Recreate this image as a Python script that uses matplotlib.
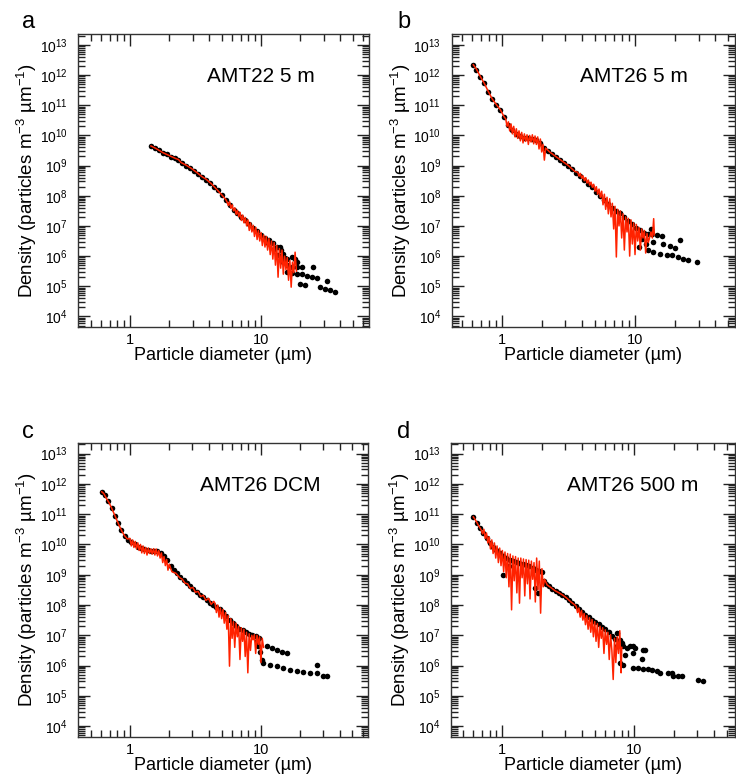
import numpy as np
import matplotlib.pyplot as plt
from matplotlib.ticker import LogLocator, NullFormatter, FuncFormatter

plt.rcParams['font.family'] = ['Liberation Sans', 'DejaVu Sans']
plt.rcParams['mathtext.default'] = 'regular'

# values: log10(diameter in um), log10(density)
# panel a: AMT22 5 m
a_dot_logd = [0.16, 0.19, 0.22, 0.25, 0.28, 0.31, 0.34, 0.37, 0.40, 0.43, 0.46, 0.49,
              0.52, 0.55, 0.58, 0.61, 0.64, 0.67, 0.70, 0.73, 0.76, 0.79, 0.82, 0.85,
              0.88, 0.91, 0.94, 0.97, 1.00, 1.03, 1.06, 1.09, 1.12, 1.145, 1.17, 1.196,
              1.234, 1.26, 1.272, 1.17, 1.196, 1.234, 1.272, 1.31, 1.399, 1.196, 1.234,
              1.272, 1.311, 1.349, 1.387, 1.425, 1.501, 1.298, 1.336, 1.45, 1.489, 1.527,
              1.565, 1.05, 1.10, 1.13, 1.15, 1.18]
a_dot_logn = [9.65, 9.58, 9.50, 9.43, 9.37, 9.30, 9.24, 9.19, 9.08, 9.00, 8.92, 8.82,
              8.72, 8.62, 8.53, 8.43, 8.30, 8.18, 8.02, 7.86, 7.68, 7.54, 7.42, 7.30,
              7.18, 7.06, 6.94, 6.82, 6.70, 6.60, 6.52, 6.42, 6.30, 6.30, 6.08, 5.91,
              5.97, 5.91, 5.80, 5.80, 5.69, 5.63, 5.63, 5.63, 5.63, 5.47, 5.44,
              5.42, 5.39, 5.35, 5.32, 5.28, 5.19, 5.08, 5.05, 4.97, 4.92, 4.86,
              4.81, 6.45, 6.25, 6.05, 6.20, 5.95]
a_red_logd = [0.16, 0.20, 0.25, 0.30, 0.35, 0.37, 0.39, 0.43, 0.47, 0.51, 0.55, 0.58,
              0.62, 0.66, 0.70, 0.73, 0.74, 0.75, 0.76, 0.77, 0.78, 0.79, 0.80, 0.81,
              0.82, 0.83, 0.84, 0.85, 0.86, 0.87, 0.88, 0.89, 0.90, 0.91, 0.92, 0.93,
              0.94, 0.95, 0.96, 0.97, 0.98, 0.99, 1.00, 1.01, 1.02, 1.03, 1.04, 1.05,
              1.06, 1.07, 1.08, 1.09, 1.10, 1.11, 1.12, 1.13, 1.14, 1.15, 1.16, 1.17,
              1.18, 1.19, 1.20, 1.21, 1.22, 1.23, 1.24, 1.25, 1.26, 1.27]
a_red_logn = [9.65, 9.56, 9.43, 9.33, 9.23, 9.20, 9.10, 9.01, 8.90, 8.77, 8.63, 8.55,
              8.40, 8.22, 8.03, 7.88, 7.80, 7.68, 7.80, 7.58, 7.70, 7.50, 7.60, 7.38,
              7.52, 7.30, 7.45, 7.18, 7.36, 7.10, 7.28, 7.00, 7.20, 6.85, 7.10, 6.80,
              7.02, 6.65, 6.95, 6.55, 6.85, 6.50, 6.78, 6.35, 6.70, 6.30, 6.65, 6.20,
              6.58, 6.05, 6.50, 5.90, 6.45, 5.70, 6.35, 5.30, 6.25, 5.60, 6.20, 5.40,
              6.00, 5.55, 5.95, 5.20, 5.85, 4.97, 5.80, 5.45, 6.13, 5.50]

# panel b: AMT26 5 m
b_dot_logd = [-0.213, -0.19, -0.16, -0.13, -0.10, -0.07, -0.04, -0.01, 0.02, 0.05, 0.08,
              0.11, 0.14, 0.17, 0.20, 0.23, 0.26, 0.29, 0.32, 0.35, 0.38, 0.41, 0.44,
              0.47, 0.50, 0.53, 0.56, 0.59, 0.62, 0.65, 0.68, 0.71, 0.74, 0.77, 0.80,
              0.83, 0.86, 0.89, 0.92, 0.95, 0.98, 1.01, 1.04, 1.07, 1.10, 1.125, 1.162,
              1.20, 1.337, 1.137, 1.212, 1.262, 1.30, 1.10, 1.137, 1.188, 1.238, 1.275,
              1.325, 1.362, 1.40, 1.463, 1.05, 1.08, 1.03, 1.12]
b_dot_logn = [12.34, 12.18, 11.95, 11.72, 11.45, 11.22, 11.02, 10.84, 10.62, 10.36, 10.18,
              10.06, 9.99, 9.93, 9.90, 9.88, 9.84, 9.74, 9.58, 9.48, 9.38, 9.29, 9.19,
              9.09, 8.98, 8.88, 8.77, 8.66, 8.52, 8.40, 8.28, 8.14, 8.00, 7.86, 7.72,
              7.60, 7.50, 7.42, 7.30, 7.16, 7.05, 6.94, 6.85, 6.78, 6.74, 6.74, 6.69,
              6.66, 6.54, 6.47, 6.41, 6.32, 6.28, 6.19, 6.13, 6.08, 6.02, 6.02,
              5.97, 5.91, 5.88, 5.80, 6.55, 6.40, 6.30, 6.90]
b_red_logd = [-0.213, -0.19, -0.16, -0.13, -0.10, -0.07, -0.04, -0.01, 0.02, 0.03, 0.04,
              0.05, 0.06, 0.07, 0.08, 0.09, 0.10, 0.11, 0.12, 0.13, 0.14, 0.15, 0.16,
              0.17, 0.18, 0.19, 0.20, 0.21, 0.22, 0.23, 0.24, 0.25, 0.26, 0.27, 0.28,
              0.29, 0.30, 0.31, 0.32, 0.33, 0.36, 0.40, 0.45, 0.50, 0.55, 0.57, 0.58,
              0.59, 0.60, 0.61, 0.62, 0.63, 0.64, 0.65, 0.66, 0.67, 0.68, 0.69, 0.70,
              0.71, 0.72, 0.73, 0.74, 0.75, 0.76, 0.77, 0.78, 0.79, 0.80, 0.81, 0.82,
              0.83, 0.84, 0.85, 0.86, 0.87, 0.88, 0.89, 0.90, 0.91, 0.92, 0.93, 0.94,
              0.95, 0.96, 0.97, 0.98, 0.99, 1.00, 1.01, 1.02, 1.03, 1.04, 1.05, 1.06,
              1.07, 1.08, 1.09, 1.10, 1.12, 1.13, 1.14, 1.145]
b_red_logn = [12.34, 12.20, 11.95, 11.72, 11.45, 11.20, 11.02, 10.85, 10.60, 10.55, 10.30,
              10.45, 10.15, 10.38, 10.05, 10.30, 9.95, 10.22, 9.90, 10.15, 9.82, 10.10, 9.75,
              10.05, 9.80, 10.02, 9.70, 10.00, 9.78, 10.02, 9.72, 9.98, 9.70, 9.95, 9.55,
              9.88, 9.45, 9.70, 9.18, 9.58, 9.45, 9.32, 9.16, 9.00, 8.80, 8.78, 8.65,
              8.74, 8.58, 8.66, 8.50, 8.60, 8.42, 8.52, 8.35, 8.45, 8.28, 8.38, 8.15,
              8.30, 8.05, 8.22, 7.95, 8.15, 7.70, 8.05, 7.55, 7.95, 7.40, 7.90, 7.30,
              7.75, 6.90, 7.65, 5.97, 7.55, 7.00, 7.50, 6.60, 7.40, 6.20, 7.30, 6.80,
              7.25, 6.00, 7.20, 6.40, 7.10, 6.05, 7.05, 6.50, 6.95, 6.20, 6.90, 6.60,
              6.85, 6.10, 6.75, 6.45, 6.80, 6.60, 7.24, 6.70]

# panel c: AMT26 DCM
c_dot_logd = [-0.216, -0.19, -0.165, -0.14, -0.115, -0.09, -0.065, -0.04, -0.015, 0.01,
              0.035, 0.06, 0.085, 0.11, 0.135, 0.16, 0.185, 0.21, 0.235, 0.26, 0.285,
              0.31, 0.335, 0.36, 0.385, 0.41, 0.435, 0.46, 0.485, 0.51, 0.535, 0.56,
              0.585, 0.61, 0.635, 0.66, 0.685, 0.71, 0.735, 0.76, 0.785, 0.81, 0.835,
              0.86, 0.885, 0.91, 0.935, 0.96, 0.985, 1.043, 1.081, 1.120, 1.158, 1.196,
              1.069, 1.120, 1.170, 1.221, 1.272, 1.323, 1.374, 1.425, 1.476, 1.501,
              1.425, 0.941, 0.967, 0.98, 0.992, 1.005, 1.018]
c_dot_logn = [11.74, 11.62, 11.42, 11.20, 10.95, 10.70, 10.48, 10.28, 10.15, 10.08,
              10.00, 9.93, 9.87, 9.84, 9.80, 9.78, 9.78, 9.77, 9.72, 9.62, 9.48,
              9.30, 9.15, 9.05, 8.94, 8.84, 8.72, 8.62, 8.52, 8.43, 8.34, 8.26,
              8.17, 8.08, 8.00, 7.94, 7.86, 7.78, 7.65, 7.52, 7.40, 7.30, 7.22,
              7.16, 7.10, 7.05, 7.00, 6.96, 6.92, 6.63, 6.57, 6.52, 6.46, 6.41,
              6.03, 5.97, 5.92, 5.86, 5.83, 5.80, 5.76, 5.74, 5.67, 5.65,
              6.03, 6.96, 6.80, 6.63, 6.46, 6.19, 6.10]
c_red_logd = [-0.216, -0.20, -0.18, -0.16, -0.14, -0.12, -0.10, -0.08, -0.06, -0.04, -0.02,
              0.00, 0.01, 0.02, 0.03, 0.04, 0.05, 0.06, 0.07, 0.08, 0.09, 0.10, 0.11,
              0.12, 0.13, 0.14, 0.15, 0.16, 0.17, 0.18, 0.19, 0.20, 0.21, 0.22, 0.23,
              0.24, 0.25, 0.26, 0.27, 0.28, 0.29, 0.30, 0.32, 0.35, 0.38, 0.40, 0.42,
              0.44, 0.46, 0.48, 0.50, 0.52, 0.54, 0.56, 0.58, 0.60, 0.62, 0.64, 0.65,
              0.66, 0.67, 0.68, 0.69, 0.70, 0.71, 0.72, 0.73, 0.74, 0.75, 0.76, 0.77,
              0.78, 0.79, 0.80, 0.81, 0.82, 0.83, 0.84, 0.85, 0.86, 0.87, 0.88, 0.89,
              0.90, 0.91, 0.92, 0.93, 0.94, 0.95, 0.96, 0.97, 0.98, 0.99, 1.00, 1.01,
              1.02]
c_red_logn = [11.74, 11.68, 11.52, 11.38, 11.20, 11.00, 10.80, 10.60, 10.42, 10.28, 10.18,
              10.20, 9.95, 10.15, 9.90, 10.10, 9.85, 10.05, 9.80, 10.00, 9.72, 9.95, 9.70,
              9.90, 9.65, 9.88, 9.70, 9.85, 9.68, 9.86, 9.65, 9.85, 9.62, 9.80, 9.55,
              9.72, 9.40, 9.60, 9.30, 9.50, 9.15, 9.35, 9.10, 9.05, 8.90, 8.85, 8.72,
              8.70, 8.55, 8.58, 8.42, 8.45, 8.28, 8.32, 8.15, 8.22, 8.02, 8.12, 8.05,
              7.75, 8.00, 7.60, 7.90, 7.55, 7.85, 7.40, 7.75, 7.20, 7.65, 5.98, 7.55,
              6.90, 7.45, 6.60, 7.40, 6.95, 7.30, 6.20, 7.25, 6.80, 7.20, 6.30, 7.10,
              5.76, 7.05, 6.50, 7.00, 6.85, 7.02, 6.40, 7.00, 6.70, 6.95, 6.10, 6.90,
              6.60]

# panel d: AMT26 500 m
d_dot_logd = [-0.22, -0.195, -0.17, -0.145, -0.12, -0.095, -0.07, -0.045, -0.02, 0.005,
              0.03, 0.055, 0.08, 0.105, 0.13, 0.155, 0.18, 0.205, 0.23, 0.255, 0.28,
              0.30, 0.315, 0.33, 0.355, 0.38, 0.405, 0.43, 0.455, 0.48, 0.505, 0.53,
              0.555, 0.58, 0.605, 0.63, 0.655, 0.68, 0.705, 0.73, 0.755, 0.78, 0.805,
              0.83, 0.855, 0.008, 0.27, 0.25, 0.05, 0.866, 0.892, 0.905, 0.866, 0.917,
              0.942, 0.967, 0.993, 1.005, 1.081, 0.93, 0.993, 0.892, 0.917, 0.993,
              1.031, 1.068, 1.106, 1.131, 1.169, 1.194, 1.257, 1.283, 1.295, 1.333,
              1.359, 1.485, 1.523, 1.056, 1.068]
d_dot_logn = [10.91, 10.72, 10.55, 10.37, 10.20, 10.05, 9.93, 9.82, 9.72, 9.62,
              9.55, 9.49, 9.45, 9.41, 9.38, 9.35, 9.32, 9.28, 9.22, 9.16, 9.12,
              9.08, 8.80, 8.70, 8.62, 8.53, 8.46, 8.40, 8.34, 8.27, 8.18, 8.08,
              7.98, 7.88, 7.78, 7.68, 7.60, 7.52, 7.44, 7.36, 7.28, 7.20, 7.10,
              6.98, 6.88, 8.99, 8.39, 8.55, 9.30, 7.07, 6.85, 6.74, 6.63, 6.63,
              6.58, 6.63, 6.63, 6.58, 6.50, 6.36, 6.41, 6.09, 6.03, 5.93,
              5.93, 5.89, 5.87, 5.85, 5.82, 5.76, 5.74, 5.77, 5.67, 5.65,
              5.67, 5.52, 5.48, 6.22, 6.52]
d_red_logd = [-0.22, -0.20, -0.18, -0.16, -0.15, -0.14, -0.13, -0.12, -0.11, -0.10, -0.09,
              -0.08, -0.07, -0.06, -0.05, -0.04, -0.03, -0.02, -0.01, 0.00, 0.01, 0.02,
              0.03, 0.04, 0.05, 0.06, 0.07, 0.08, 0.09, 0.10, 0.11, 0.12, 0.13, 0.14,
              0.15, 0.16, 0.17, 0.18, 0.19, 0.20, 0.21, 0.22, 0.23, 0.24, 0.25, 0.26,
              0.27, 0.28, 0.29, 0.30, 0.31, 0.32, 0.34, 0.37, 0.40, 0.43, 0.46, 0.49,
              0.52, 0.55, 0.56, 0.57, 0.58, 0.59, 0.60, 0.61, 0.62, 0.63, 0.64, 0.65,
              0.66, 0.67, 0.68, 0.69, 0.70, 0.71, 0.72, 0.73, 0.74, 0.75, 0.76, 0.77,
              0.78, 0.79, 0.80, 0.81, 0.82, 0.83, 0.84, 0.85, 0.86, 0.87, 0.88, 0.89,
              0.90, 0.905]
d_red_logn = [10.91, 10.78, 10.62, 10.48, 10.35, 10.50, 10.20, 10.38, 10.05, 10.25, 9.85,
              10.15, 9.70, 10.05, 9.55, 9.95, 9.40, 9.88, 9.30, 9.80, 9.10, 9.75,
              8.90, 9.70, 8.60, 9.68, 7.84, 9.62, 8.80, 9.60, 8.40, 9.55, 8.06, 9.55,
              8.90, 9.52, 8.30, 9.50, 8.70, 9.48, 8.20, 9.45, 8.85, 9.40, 8.10, 9.55,
              8.50, 9.45, 7.73, 9.20, 8.60, 8.85, 8.66, 8.57, 8.47, 8.40, 8.32, 8.22,
              8.10, 8.00, 7.95, 7.75, 7.90, 7.60, 7.82, 7.50, 7.72, 7.35, 7.65, 7.20,
              7.58, 7.10, 7.52, 6.95, 7.45, 6.80, 7.38, 6.60, 7.30, 6.90, 7.25, 6.40,
              7.18, 6.70, 7.10, 6.20, 7.02, 6.50, 5.54, 6.90, 6.10, 6.95, 6.40, 7.15,
              5.76, 6.60]

panel_letters = ['a', 'b', 'c', 'd']
panel_titles = ['AMT22 5 m', 'AMT26 5 m', 'AMT26 DCM', 'AMT26 500 m']
x_major = [1, 10]
y_major = [1e4, 1e5, 1e6, 1e7, 1e8, 1e9, 1e10, 1e11, 1e12, 1e13]

W, H = 736, 781
fig = plt.figure(figsize=(W / 100, H / 100), dpi=100)

# (left, top, right, bottom) in pixels, log10 x-limits, title x, letter position
panels = [
    ((78, 34, 369, 327), (-0.397, 1.824), 0.443, (22, 28),
     a_dot_logd, a_dot_logn, a_red_logd, a_red_logn),
    ((451.7, 34, 735, 327), (-0.375, 1.75), 0.452, (397, 28),
     b_dot_logd, b_dot_logn, b_red_logd, b_red_logn),
    ((78, 442.7, 368.3, 736.7), (-0.397, 1.82), 0.419, (22, 438),
     c_dot_logd, c_dot_logn, c_red_logd, c_red_logn),
    ((451, 442.7, 735, 736.7), (-0.389, 1.763), 0.41, (397, 438),
     d_dot_logd, d_dot_logn, d_red_logd, d_red_logn),
]

plain = FuncFormatter(lambda v, pos: f'{v:g}')
power = FuncFormatter(lambda v, pos: f'$10^{{{int(round(np.log10(v)))}}}$')

for k, (box, xl, tx, lp, dlx, dly, rlx, rly) in enumerate(panels):
    l, t, r, b = box
    ax = fig.add_axes([l / W, 1 - b / H, (r - l) / W, (b - t) / H])
    ax.set_xscale('log')
    ax.set_yscale('log')
    ax.plot(10 ** np.array(dlx), 10 ** np.array(dly), 'o', color='black',
            ms=4, mew=0, zorder=2)
    ax.plot(10 ** np.array(rlx), 10 ** np.array(rly), '-', color='#ff2200',
            lw=1.1, zorder=3)
    ax.set_xlim(10 ** xl[0], 10 ** xl[1])
    ax.set_ylim(10 ** 3.65, 10 ** 13.36)
    ax.set_xticks(x_major)
    ax.set_yticks(y_major)
    ax.xaxis.set_minor_locator(LogLocator(base=10, subs=np.arange(2, 10), numticks=100))
    ax.yaxis.set_minor_locator(LogLocator(base=10, subs=np.arange(2, 10), numticks=100))
    ax.xaxis.set_major_formatter(plain)
    ax.yaxis.set_major_formatter(power)
    ax.xaxis.set_minor_formatter(NullFormatter())
    ax.yaxis.set_minor_formatter(NullFormatter())
    ax.tick_params(which='both', direction='in', top=True, right=True,
                   width=1.0, colors='#222222', labelcolor='black')
    ax.tick_params(which='major', length=8.5)
    ax.tick_params(which='minor', length=4.8)
    ax.tick_params(axis='x', labelsize=10.5, pad=4.5)
    ax.tick_params(axis='y', labelsize=10, pad=7.5)
    for s in ax.spines.values():
        s.set_linewidth(1.0)
        s.set_color('#333333')
    ax.set_xlabel('Particle diameter (µm)', fontsize=13, labelpad=0)
    ax.set_ylabel('Density (particles m$^{-3}$ µm$^{-1}$)', fontsize=13.5, labelpad=0.5)
    ax.text(tx, 0.855, panel_titles[k], transform=ax.transAxes, fontsize=15,
            ha='left', va='center')
    fig.text(lp[0] / W, 1 - lp[1] / H, panel_letters[k], fontsize=17,
             ha='left', va='baseline')

fig.savefig('out.png', dpi=100)
